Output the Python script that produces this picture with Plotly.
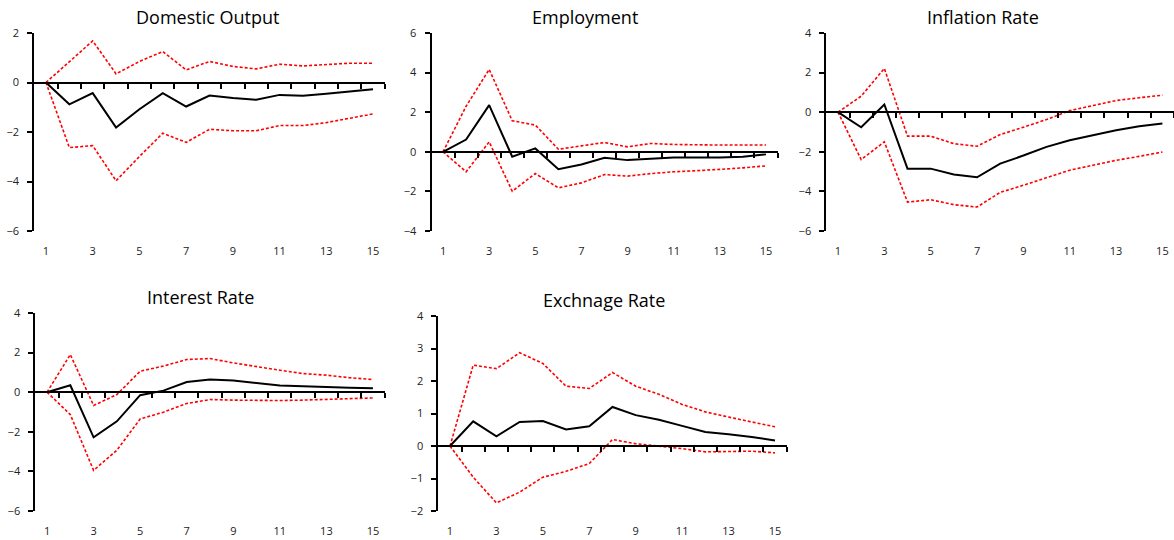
import plotly.graph_objects as go

W, H = 1174, 540

periods = list(range(1, 16))

# Impulse responses: point estimate with lower / upper confidence bands
output_mean = [0, -0.88, -0.43, -1.82, -1.08, -0.43, -0.97, -0.53, -0.63, -0.70, -0.50, -0.54, -0.45, -0.35, -0.27]
output_upper = [0, 0.85, 1.68, 0.35, 0.85, 1.25, 0.51, 0.85, 0.65, 0.55, 0.74, 0.67, 0.71, 0.78, 0.78]
output_lower = [0, -2.63, -2.55, -3.97, -2.99, -2.05, -2.42, -1.89, -1.95, -1.95, -1.74, -1.74, -1.62, -1.44, -1.27]

employment_mean = [0, 0.62, 2.36, -0.25, 0.17, -0.88, -0.64, -0.30, -0.42, -0.34, -0.29, -0.29, -0.29, -0.25, -0.13]
employment_upper = [0, 2.30, 4.16, 1.57, 1.35, 0.13, 0.30, 0.47, 0.25, 0.42, 0.37, 0.34, 0.34, 0.34, 0.34]
employment_lower = [0, -1.01, 0.50, -1.99, -1.10, -1.82, -1.57, -1.15, -1.23, -1.10, -1.01, -0.96, -0.89, -0.81, -0.71]

inflation_mean = [0, -0.76, 0.39, -2.85, -2.85, -3.15, -3.29, -2.60, -2.19, -1.75, -1.42, -1.18, -0.91, -0.71, -0.57]
inflation_upper = [0, 0.81, 2.21, -1.21, -1.21, -1.59, -1.72, -1.13, -0.76, -0.37, 0.08, 0.34, 0.59, 0.73, 0.86]
inflation_lower = [0, -2.39, -1.50, -4.54, -4.42, -4.67, -4.79, -4.05, -3.69, -3.32, -2.93, -2.68, -2.43, -2.23, -2.01]

interest_mean = [0, 0.35, -2.28, -1.47, -0.15, 0.08, 0.51, 0.64, 0.59, 0.47, 0.34, 0.30, 0.25, 0.22, 0.20]
interest_upper = [0, 1.90, -0.67, -0.12, 1.06, 1.32, 1.65, 1.70, 1.48, 1.28, 1.11, 0.94, 0.86, 0.73, 0.64]
interest_lower = [0, -1.13, -3.95, -2.93, -1.35, -1.01, -0.57, -0.37, -0.40, -0.42, -0.42, -0.40, -0.37, -0.34, -0.29]

exchange_mean = [0, 0.76, 0.30, 0.74, 0.77, 0.51, 0.61, 1.20, 0.95, 0.81, 0.62, 0.43, 0.36, 0.28, 0.17]
exchange_upper = [0, 2.49, 2.38, 2.87, 2.54, 1.84, 1.77, 2.26, 1.84, 1.59, 1.28, 1.05, 0.89, 0.74, 0.59]
exchange_lower = [0, -0.96, -1.75, -1.42, -0.96, -0.78, -0.54, 0.20, 0.07, 0.00, -0.08, -0.18, -0.16, -0.16, -0.21]

titles = ["Domestic Output", "Employment", "Inflation Rate", "Interest Rate", "Exchnage Rate"]
y_ranges = [(-6, 2), (-4, 6), (-6, 4), (-6, 4), (-2, 4)]
y_steps = [2, 2, 2, 2, 1]
x_ticks = [1, 3, 5, 7, 9, 11, 13, 15]

series = [
    (output_mean, output_upper, output_lower),
    (employment_mean, employment_upper, employment_lower),
    (inflation_mean, inflation_upper, inflation_lower),
    (interest_mean, interest_upper, interest_lower),
    (exchange_mean, exchange_upper, exchange_lower),
]

# Plot-area boxes in pixels: (left, right, top, bottom), title centre (x, y)
boxes = [
    (34.3, 384.7, 33, 231),
    (431.5, 777.5, 33, 231),
    (826.4, 1174, 33, 231),
    (35.4, 384.6, 313, 511),
    (438.4, 786.6, 316, 511),
]
title_pos = [(207, 17), (585, 17), (983, 17), (200, 297), (604, 300)]

FONT = "Open Sans"
TICK_COLOR = "#222222"
LABEL_GAP = 10  # px between the bottom of the plot area and the x labels

fig = go.Figure()
layout = dict(
    width=W, height=H,
    margin=dict(l=0, r=0, t=0, b=0, autoexpand=False),
    paper_bgcolor="white", plot_bgcolor="white",
    showlegend=False,
    annotations=[],
)

for i in range(len(titles)):
    k = i + 1
    xa = "x" if k == 1 else f"x{k}"
    ya = "y" if k == 1 else f"y{k}"
    left, right, top, bottom = boxes[i]
    xdom = [left / W, min(right / W, 1.0)]
    ydom = [1 - bottom / H, 1 - top / H]
    ymin, ymax = y_ranges[i]

    mean, upper, lower = series[i]
    for band in (upper, lower):
        fig.add_trace(go.Scatter(
            x=periods, y=band, xaxis=xa, yaxis=ya, mode="lines",
            line=dict(color="#ff0000", width=1.6, dash="3px,2px"),
            hoverinfo="skip",
        ))
    fig.add_trace(go.Scatter(
        x=periods, y=mean, xaxis=xa, yaxis=ya, mode="lines",
        line=dict(color="black", width=2),
        hoverinfo="skip",
    ))

    # category axis crossing at zero; tick marks sit between categories,
    # labels are pushed down to the bottom of the plot area
    zero_frac = (0 - ymin) / (ymax - ymin)
    zero_pos = ydom[0] + zero_frac * (ydom[1] - ydom[0])
    zero_px_above_bottom = zero_frac * (bottom - top)
    layout["xaxis" if k == 1 else f"xaxis{k}"] = dict(
        domain=xdom, anchor="free", position=zero_pos, side="bottom",
        range=[0.5, 15.5], automargin=False,
        tickvals=x_ticks, ticktext=[str(v) for v in x_ticks],
        ticks="outside", ticklen=0, tickcolor="rgba(0,0,0,0)",
        minor=dict(tickvals=[p + 0.5 for p in periods], ticks="outside",
                   ticklen=5, tickwidth=1.5, tickcolor="black"),
        showline=True, linecolor="black", linewidth=2,
        showgrid=False, zeroline=False,
        ticklabelstandoff=int(round(zero_px_above_bottom + LABEL_GAP)),
        tickfont=dict(family=FONT, size=11, color=TICK_COLOR),
        fixedrange=True,
    )
    layout["yaxis" if k == 1 else f"yaxis{k}"] = dict(
        domain=ydom, anchor=xa, range=[ymin, ymax], dtick=y_steps[i], tick0=0,
        automargin=False,
        showline=True, linecolor="black", linewidth=2,
        ticks="outside", ticklen=5, tickwidth=1.5, tickcolor="black",
        showgrid=False, zeroline=False,
        ticklabelstandoff=6,
        tickfont=dict(family=FONT, size=11, color=TICK_COLOR),
        fixedrange=True,
    )
    tx, ty = title_pos[i]
    layout["annotations"].append(dict(
        text=titles[i], xref="paper", yref="paper",
        x=tx / W, y=1 - ty / H, xanchor="center", yanchor="middle",
        showarrow=False, font=dict(family=FONT, size=18, color="black"),
    ))

fig.update_layout(**layout)
fig.write_html("out.html")
